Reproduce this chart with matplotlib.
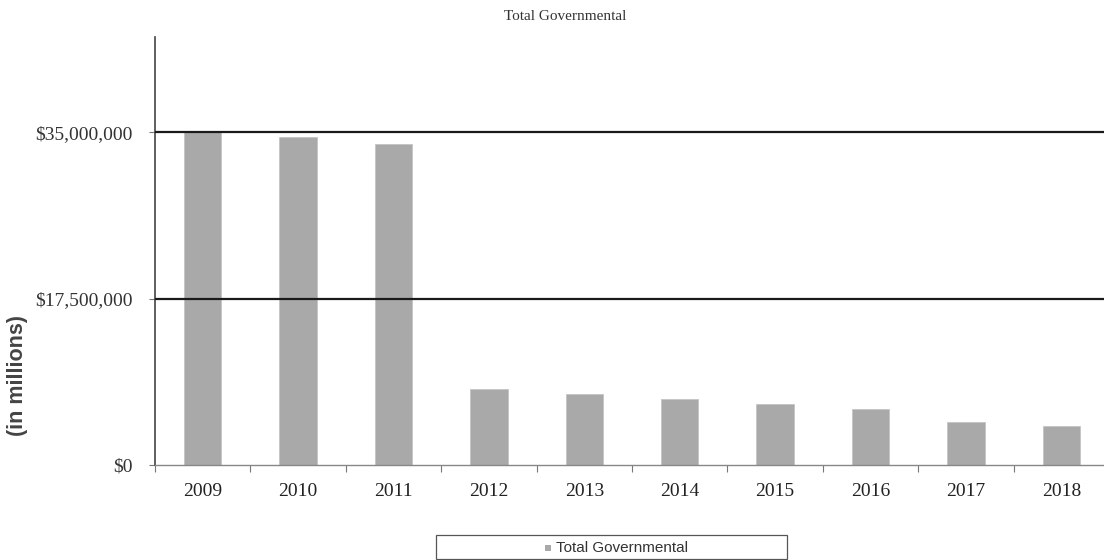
import matplotlib
matplotlib.use('Agg')
import matplotlib.pyplot as plt
from matplotlib.patches import Rectangle
from matplotlib.ticker import FixedLocator

# data
years = ['2009', '2010', '2011', '2012', '2013', '2014', '2015', '2016', '2017', '2018']
values = [35.0e6, 34.5e6, 33.7e6, 7.96e6, 7.46e6, 6.9e6, 6.41e6, 5.89e6, 4.55e6, 4.1e6]
yticks = [0, 17.5e6, 35e6]
ytick_labels = ['$0', '$17,500,000', '$35,000,000']
series_name = 'Total Governmental'

BAR_COLOR = '#a9a9a9'
SERIF = 'Liberation Serif'

fig = plt.figure(figsize=(11.04, 5.6), dpi=100)
ax = fig.add_axes([155 / 1104, 1 - 465 / 560, 954 / 1104, 428 / 560])

x = list(range(len(years)))
ax.bar(x, values, width=0.39, color=BAR_COLOR, edgecolor='#c4c4c4', linewidth=0.6, zorder=2)

ax.set_xlim(-0.5, len(years) - 0.5)
ax.set_ylim(0, 45e6)

# horizontal gridlines
for yv in yticks[1:]:
    ax.axhline(yv, color='#1a1a1a', lw=1.6, zorder=3)

ax.set_yticks(yticks)
ax.set_yticklabels(ytick_labels, fontfamily=SERIF, fontsize=14, color='#333333')
ax.tick_params(axis='y', length=4, width=0.8, color='#777777', pad=12)

ax.set_xticks(x)
ax.set_xticklabels(years, fontfamily=SERIF, fontsize=14, color='#222222')
ax.tick_params(axis='x', which='major', length=0, pad=13)
ax.xaxis.set_minor_locator(FixedLocator([i - 0.5 for i in range(len(years) + 1)]))
ax.tick_params(axis='x', which='minor', length=5, width=0.8, color='#777777')

for side in ['top', 'right']:
    ax.spines[side].set_visible(False)
ax.spines['left'].set_color('#444444')
ax.spines['left'].set_linewidth(1.2)
ax.spines['bottom'].set_color('#888888')
ax.spines['bottom'].set_linewidth(1.0)

fig.text(565 / 1104, 1 - 16 / 560, series_name, ha='center', va='center',
         fontfamily=SERIF, fontsize=11, color='#333333')
fig.text(18 / 1104, 1 - 375 / 560, '(in millions)', rotation=90, ha='center', va='center',
         fontfamily='Liberation Sans', fontweight='bold', fontsize=15.5, color='#444444')

# legend box drawn by hand to match the wide frame
fig.patches.append(Rectangle((436 / 1104, 1 - 559 / 560), 351 / 1104, 24 / 560,
                             transform=fig.transFigure, facecolor='white',
                             edgecolor='#555555', linewidth=0.9))
fig.patches.append(Rectangle((545 / 1104, 1 - 551 / 560), 6 / 1104, 6 / 560,
                             transform=fig.transFigure, facecolor=BAR_COLOR,
                             edgecolor='none'))
fig.text(556 / 1104, 1 - 547.5 / 560, series_name, ha='left', va='center',
         fontfamily='Liberation Sans', fontsize=11, color='#333333')

fig.savefig('out.png', dpi=100)
